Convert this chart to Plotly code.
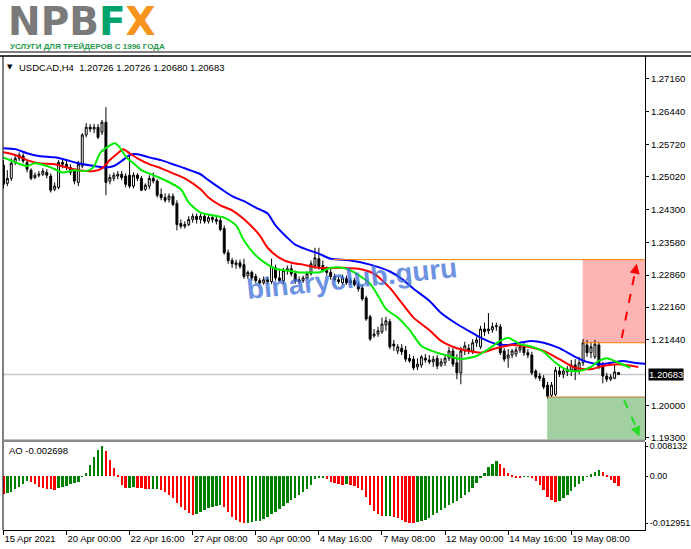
import plotly.graph_objects as go

# ---------------- data ----------------
tick_pos = [0, 16, 32, 48, 64, 80, 96, 112, 128, 144]
tick_labels = ["15 Apr 2021", "20 Apr 00:00", "22 Apr 16:00", "27 Apr 08:00", "30 Apr 00:00",
               "4 May 16:00", "7 May 08:00", "12 May 00:00", "14 May 16:00", "19 May 08:00"]

opens = [1.2527,1.2487,1.2498,1.2533,1.2542,1.2547,1.2533,1.2516,1.2500,1.2505,
         1.2507,1.2511,1.2503,1.2474,1.2478,1.2533,1.2529,1.2522,1.2514,1.2489,
         1.2525,1.2593,1.2610,1.2606,1.2610,1.2599,1.2621,1.2492,1.2498,1.2503,
         1.2507,1.2503,1.2505,1.2481,1.2505,1.2498,1.2474,1.2481,1.2498,1.2492,
         1.2463,1.2456,1.2452,1.2459,1.2443,1.2399,1.2393,1.2397,1.2408,1.2415,
         1.2408,1.2415,1.2404,1.2412,1.2408,1.2406,1.2388,1.2335,1.2318,1.2309,
         1.2313,1.2309,1.2285,1.2292,1.2283,1.2274,1.2269,1.2276,1.2272,1.2302,
         1.2280,1.2274,1.2296,1.2300,1.2289,1.2276,1.2274,1.2280,1.2289,1.2307,
         1.2322,1.2307,1.2296,1.2292,1.2283,1.2276,1.2269,1.2278,1.2269,1.2274,
         1.2265,1.2258,1.2236,1.2195,1.2153,1.2157,1.2162,1.2177,1.2184,1.2135,
         1.2120,1.2126,1.2122,1.2104,1.2102,1.2085,1.2089,1.2104,1.2100,1.2096,
         1.2104,1.2089,1.2094,1.2104,1.2120,1.2094,1.2072,1.2120,1.2126,1.2120,
         1.2138,1.2129,1.2168,1.2164,1.2166,1.2173,1.2173,1.2120,1.2104,1.2111,
         1.2113,1.2122,1.2129,1.2116,1.2111,1.2076,1.2065,1.2060,1.2045,1.2023,
         1.2025,1.2076,1.2069,1.2074,1.2078,1.2089,1.2076,1.2094,1.2133,1.2116,
         1.2107,1.2133,1.2087,1.2065,1.2058,1.2060,1.20726]
highs = [1.2538,1.2516,1.2542,1.2551,1.2555,1.2553,1.2538,1.2520,1.2511,1.2514,
         1.2520,1.2518,1.2509,1.2489,1.2538,1.2542,1.2536,1.2529,1.2518,1.2536,
         1.2597,1.2619,1.2617,1.2617,1.2617,1.2626,1.2654,1.2507,1.2511,1.2514,
         1.2514,1.2509,1.2553,1.2511,1.2509,1.2503,1.2487,1.2505,1.2511,1.2496,
         1.2476,1.2465,1.2465,1.2465,1.2450,1.2408,1.2404,1.2415,1.2421,1.2421,
         1.2421,1.2419,1.2419,1.2417,1.2415,1.2412,1.2395,1.2342,1.2324,1.2320,
         1.2320,1.2322,1.2296,1.2296,1.2289,1.2280,1.2283,1.2283,1.2322,1.2309,
         1.2300,1.2302,1.2307,1.2309,1.2296,1.2283,1.2285,1.2294,1.2318,1.2346,
         1.2346,1.2318,1.2305,1.2300,1.2289,1.2283,1.2287,1.2285,1.2280,1.2280,
         1.2272,1.2265,1.2241,1.2199,1.2168,1.2173,1.2193,1.2195,1.2190,1.2144,
         1.2135,1.2135,1.2131,1.2113,1.2109,1.2104,1.2111,1.2113,1.2111,1.2109,
         1.2111,1.2104,1.2113,1.2129,1.2126,1.2113,1.2129,1.2140,1.2135,1.2146,
         1.2151,1.2175,1.2182,1.2203,1.2182,1.2182,1.2179,1.2126,1.2124,1.2124,
         1.2129,1.2135,1.2138,1.2124,1.2118,1.2080,1.2072,1.2067,1.2052,1.2052,
         1.2085,1.2085,1.2083,1.2087,1.2100,1.2102,1.2107,1.2146,1.2144,1.2140,
         1.2144,1.2140,1.2096,1.2072,1.2069,1.2091,1.20726]
lows = [1.2476,1.2481,1.2492,1.2527,1.2536,1.2531,1.2511,1.2494,1.2496,1.2500,
        1.2503,1.2498,1.2467,1.2470,1.2474,1.2520,1.2516,1.2505,1.2485,1.2481,
        1.2520,1.2588,1.2599,1.2597,1.2584,1.2593,1.2461,1.2485,1.2492,1.2496,
        1.2494,1.2478,1.2476,1.2476,1.2492,1.2470,1.2470,1.2474,1.2487,1.2456,
        1.2450,1.2445,1.2445,1.2437,1.2384,1.2388,1.2388,1.2393,1.2401,1.2399,
        1.2399,1.2399,1.2399,1.2401,1.2397,1.2382,1.2331,1.2311,1.2302,1.2300,
        1.2300,1.2278,1.2278,1.2274,1.2269,1.2265,1.2265,1.2267,1.2267,1.2274,
        1.2272,1.2267,1.2287,1.2283,1.2267,1.2267,1.2269,1.2276,1.2285,1.2300,
        1.2298,1.2292,1.2285,1.2276,1.2272,1.2267,1.2265,1.2265,1.2265,1.2261,
        1.2250,1.2230,1.2186,1.2142,1.2149,1.2151,1.2157,1.2164,1.2124,1.2120,
        1.2113,1.2111,1.2096,1.2094,1.2078,1.2078,1.2083,1.2094,1.2091,1.2085,
        1.2080,1.2085,1.2087,1.2098,1.2085,1.2058,1.2047,1.2111,1.2113,1.2113,
        1.2129,1.2124,1.2153,1.2157,1.2160,1.2164,1.2111,1.2096,1.2083,1.2104,
        1.2107,1.2116,1.2109,1.2104,1.2067,1.2058,1.2054,1.2036,1.2016,1.2019,
        1.2021,1.2063,1.2060,1.2065,1.2065,1.2056,1.2069,1.2087,1.2107,1.2104,
        1.2102,1.2080,1.2049,1.2052,1.2054,1.2058,1.20680]
closes = [1.2485,1.2498,1.2531,1.2542,1.2549,1.2536,1.2518,1.2498,1.2505,1.2507,
          1.2514,1.2505,1.2472,1.2481,1.2533,1.2529,1.2522,1.2511,1.2492,1.2529,
          1.2593,1.2610,1.2606,1.2610,1.2588,1.2621,1.2489,1.2500,1.2505,1.2507,
          1.2500,1.2485,1.2481,1.2505,1.2498,1.2472,1.2483,1.2498,1.2492,1.2461,
          1.2456,1.2450,1.2459,1.2441,1.2397,1.2393,1.2397,1.2408,1.2415,1.2408,
          1.2415,1.2404,1.2412,1.2408,1.2404,1.2386,1.2335,1.2318,1.2311,1.2313,
          1.2305,1.2283,1.2292,1.2280,1.2274,1.2269,1.2276,1.2272,1.2305,1.2280,
          1.2274,1.2296,1.2300,1.2289,1.2274,1.2272,1.2280,1.2289,1.2311,1.2324,
          1.2305,1.2296,1.2292,1.2283,1.2276,1.2272,1.2280,1.2269,1.2274,1.2265,
          1.2256,1.2234,1.2190,1.2146,1.2157,1.2164,1.2179,1.2186,1.2129,1.2131,
          1.2129,1.2118,1.2102,1.2098,1.2083,1.2091,1.2107,1.2100,1.2096,1.2102,
          1.2087,1.2096,1.2104,1.2120,1.2091,1.2072,1.2120,1.2131,1.2120,1.2138,
          1.2144,1.2168,1.2162,1.2168,1.2173,1.2175,1.2116,1.2102,1.2111,1.2120,
          1.2122,1.2129,1.2116,1.2111,1.2072,1.2063,1.2060,1.2041,1.2021,1.2045,
          1.2078,1.2069,1.2076,1.2080,1.2089,1.2076,1.2094,1.2138,1.2116,1.2129,
          1.2135,1.2085,1.2065,1.2058,1.2063,1.2074,1.20683]
bars = list(range(len(closes)))

# Alligator lines
jaw_x = [0,3,6,9,13,16,19,23,26,28,30,32,34,37,40,43,46,50,52,55,58,61,64,67,69,72,74,77,80,83,
         88,93,98,101,104,108,111,115,118,121,125,128,131,134,137,141,145,148,151,154,157,160,164]
jaw_y = [1.2564,1.2562,1.2553,1.2547,1.2544,1.2538,1.2531,1.2525,1.2522,1.2525,1.2536,1.2549,1.2551,
         1.2544,1.2538,1.2529,1.2520,1.2507,1.2494,1.2476,1.2459,1.2448,1.2434,1.2421,1.2395,1.2368,
         1.2353,1.2342,1.2333,1.2322,1.2318,1.2309,1.2294,1.2278,1.2256,1.2230,1.2203,1.2179,1.2164,
         1.2149,1.2135,1.2133,1.2138,1.2142,1.2138,1.2126,1.2107,1.2096,1.2091,1.2094,1.2098,1.2094,1.2091]
teeth_x = [0,3,6,9,13,16,19,23,25,27,29,30.4,32,34,37,40,43,46,50,52,55,58,62,65,67,70,73,76,80,86,
           90,94,98,101,104,108,111,115,118,121,125,129,133,137,141,145,149,152,156,161]
teeth_y = [1.2555,1.2549,1.2538,1.2531,1.2529,1.2522,1.2516,1.2514,1.2520,1.2538,1.2553,1.2562,1.2553,
           1.2542,1.2529,1.2520,1.2509,1.2498,1.2474,1.2456,1.2439,1.2428,1.2401,1.2373,1.2346,1.2324,
           1.2313,1.2309,1.2302,1.2302,1.2300,1.2289,1.2258,1.2225,1.2193,1.2166,1.2142,1.2126,1.2120,
           1.2116,1.2126,1.2133,1.2129,1.2120,1.2102,1.2083,1.2080,1.2087,1.2091,1.2085]
lips_x = [0,3,6,8,12,15,18,21,22.8,24.5,26.2,28.3,29.5,31.2,33,35,38,41,45,47,50,53,56,59,61,64,67,69,
          72,75,78,80,83,86,89,93,95,97,100,103,106,110,113,116,120,123,126,128,131,134,137,140,143,146,
          149,151,153,156,159]
lips_y = [1.2544,1.2533,1.2525,1.2531,1.2522,1.2511,1.2516,1.2514,1.2522,1.2553,1.2566,1.2575,1.2566,
          1.2544,1.2531,1.2516,1.2505,1.2494,1.2474,1.2445,1.2423,1.2417,1.2412,1.2395,1.2362,1.2329,
          1.2309,1.2300,1.2296,1.2292,1.2292,1.2292,1.2302,1.2302,1.2292,1.2267,1.2241,1.2212,1.2193,
          1.2166,1.2131,1.2116,1.2109,1.2102,1.2109,1.2124,1.2142,1.2149,1.2135,1.2129,1.2118,1.2094,
          1.2078,1.2076,1.2085,1.2098,1.2104,1.2094,1.2083]

# Awesome Oscillator
ao = [-0.00493,-0.00475,-0.00429,-0.00365,-0.00292,-0.00228,-0.00137,-0.00155,-0.00219,-0.00292,
      -0.00338,-0.00347,-0.00356,-0.00383,-0.00338,-0.00301,-0.00274,-0.00228,-0.00201,-0.00155,
      -0.00018,0.00091,0.00301,0.00530,0.00712,0.00813,0.00685,0.00438,0.00210,0.00018,
      -0.00247,-0.00338,-0.00320,-0.00310,-0.00320,-0.00338,-0.00342,-0.00365,-0.00356,-0.00350,
      -0.00375,-0.00429,-0.00520,-0.00612,-0.00749,-0.00840,-0.00931,-0.01023,-0.01068,-0.01050,
      -0.00995,-0.00931,-0.00886,-0.00840,-0.00813,-0.00794,-0.00840,-0.00977,-0.01114,-0.01205,
      -0.01265,-0.01280,-0.01275,-0.01262,-0.01240,-0.01233,-0.01178,-0.01114,-0.01041,-0.00977,
      -0.00904,-0.00822,-0.00749,-0.00657,-0.00593,-0.00520,-0.00447,-0.00356,-0.00247,-0.00091,
      -0.00064,-0.00055,-0.00091,-0.00155,-0.00201,-0.00228,-0.00247,-0.00228,-0.00247,-0.00274,
      -0.00320,-0.00383,-0.00566,-0.00794,-0.00959,-0.01050,-0.01105,-0.01096,-0.01087,-0.01123,
      -0.01160,-0.01210,-0.01260,-0.01285,-0.01295,-0.01270,-0.01245,-0.01214,-0.01150,-0.01077,
      -0.01004,-0.00940,-0.00867,-0.00794,-0.00740,-0.00685,-0.00612,-0.00520,-0.00429,-0.00320,
      -0.00183,-0.00064,0.00091,0.00237,0.00329,0.00411,0.00320,0.00210,0.00091,0.00009,
      -0.00046,-0.00055,-0.00027,-0.00018,-0.00064,-0.00137,-0.00247,-0.00383,-0.00566,-0.00667,
      -0.00703,-0.00685,-0.00612,-0.00520,-0.00411,-0.00310,-0.00228,-0.00137,-0.00027,0.00046,
      0.00119,0.00164,0.00100,0.00009,-0.00105,-0.00190,-0.002698]
ao_colors = ["#ff0000"] + ["#008000" if ao[k] > ao[k - 1] else "#ff0000" for k in range(1, len(ao))]

price_ticks = [1.27160, 1.26440, 1.25720, 1.25020, 1.24300, 1.23580, 1.22860, 1.22160, 1.21440, 1.20000, 1.19300]
ao_ticks = [0.008132, 0.0, -0.012951]
ao_tick_text = ["0.008132", "0.00", "-0.012951"]
last_price = 1.20683
resist_level = 1.2320
box_low = 1.2138
support_level = 1.2019

# ---------------- layout helpers ----------------
W, H = 691, 549
L, R, T, B = 3, 645, 56, 530
def pxx(px):
    return (px - L) / (R - L)
def pxy(py):
    return (B - py) / (B - T)

FONT = "Liberation Sans, Arial, sans-serif"
fig = go.Figure()

fig.add_trace(go.Candlestick(
    x=bars, open=opens, high=highs, low=lows, close=closes,
    increasing=dict(line=dict(color="black", width=1), fillcolor="white"),
    decreasing=dict(line=dict(color="black", width=1), fillcolor="black"),
    whiskerwidth=0, xaxis="x", yaxis="y", showlegend=False, hoverinfo="skip"))

for xs, ys, col in [(jaw_x, jaw_y, "#0000ff"), (teeth_x, teeth_y, "#ff0000"), (lips_x, lips_y, "#00ee00")]:
    fig.add_trace(go.Scatter(x=xs, y=ys, mode="lines", xaxis="x", yaxis="y", showlegend=False,
                             hoverinfo="skip",
                             line=dict(color=col, width=2, shape="spline", smoothing=0.7)))

fig.add_trace(go.Bar(x=bars, y=ao, marker=dict(color=ao_colors, line=dict(width=0)), width=0.6,
                     xaxis="x", yaxis="y2", showlegend=False, hoverinfo="skip"))

main_bottom = pxy(439.5)
ao_top = pxy(442)

shapes = []
shapes.append(dict(type="rect", xref="x", yref="y", x0=146.9, x1=170, y0=box_low, y1=resist_level,
                   fillcolor="#ffb4b4", line=dict(width=0), layer="below"))
shapes.append(dict(type="rect", xref="x", yref="y", x0=137.9, x1=170, y0=1.18, y1=support_level,
                   fillcolor="#a3d0a3", line=dict(width=0), layer="below"))
shapes.append(dict(type="line", xref="paper", yref="y", x0=0, x1=1, y0=last_price, y1=last_price,
                   line=dict(color="#c8c8c8", width=1.5), layer="below"))
shapes.append(dict(type="line", xref="x", yref="y", x0=83.6, x1=170, y0=resist_level, y1=resist_level,
                   line=dict(color="#ff7f00", width=1)))
shapes.append(dict(type="line", xref="x", yref="y", x0=146.9, x1=170, y0=box_low, y1=box_low,
                   line=dict(color="#ff7f00", width=1)))
shapes.append(dict(type="line", xref="x", yref="y", x0=137.9, x1=170, y0=support_level, y1=support_level,
                   line=dict(color="#c07838", width=1)))
shapes.append(dict(type="line", xref="x", yref="y", x0=156.8, x1=160.3, y0=1.2148, y1=1.2298,
                   line=dict(color="#ff0000", width=2, dash="dash")))
shapes.append(dict(type="line", xref="x", yref="y", x0=157.4, x1=161.0, y0=1.2012, y1=1.1942,
                   line=dict(color="#22dd22", width=2, dash="dash")))
shapes.append(dict(type="line", xref="paper", yref="paper", x0=0, x1=0, y0=0, y1=1,
                   line=dict(color="black", width=1)))
shapes.append(dict(type="line", xref="paper", yref="paper", x0=pxx(0), x1=pxx(691), y0=1, y1=1,
                   line=dict(color="black", width=1.5)))
shapes.append(dict(type="line", xref="paper", yref="paper", x0=pxx(0), x1=pxx(691), y0=pxy(52), y1=pxy(52),
                   line=dict(color="black", width=1)))
shapes.append(dict(type="rect", xref="paper", yref="paper", x0=0, x1=1, y0=ao_top, y1=main_bottom,
                   fillcolor="#8a8a8a", line=dict(width=0)))

annotations = []
annotations.append(dict(xref="paper", yref="paper", x=pxx(6), y=pxy(22), xanchor="left", yanchor="middle",
                        showarrow=False,
                        text="<b>NPB<span style='color:#00a36c'>F</span><span style='color:#f7941d'>X</span></b>",
                        font=dict(family="DejaVu Sans, Liberation Sans, sans-serif", size=39, color="#7a7a7a")))
annotations.append(dict(xref="paper", yref="paper", x=pxx(8), y=pxy(47), xanchor="left", yanchor="middle",
                        showarrow=False, text="<b>УСЛУГИ ДЛЯ ТРЕЙДЕРОВ С 1996 ГОДА</b>",
                        font=dict(family="Liberation Sans, sans-serif", size=8, color="#1f9a4c")))
annotations.append(dict(xref="paper", yref="paper", x=pxx(5), y=pxy(67), xanchor="left", yanchor="middle",
                        showarrow=False, text="▼", font=dict(family="DejaVu Sans", size=7, color="black")))
annotations.append(dict(xref="paper", yref="paper", x=pxx(17), y=pxy(67), xanchor="left", yanchor="middle",
                        showarrow=False,
                        text="USDCAD,H4\u00a0\u00a01.20726 1.20726 1.20680 1.20683",
                        font=dict(family=FONT, size=9.5, color="black")))
annotations.append(dict(xref="paper", yref="paper", x=pxx(7), y=pxy(450), xanchor="left", yanchor="middle",
                        showarrow=False, text="AO -0.002698", font=dict(family=FONT, size=9.5, color="black")))
annotations.append(dict(xref="paper", yref="y", x=1, y=last_price, xanchor="left", yanchor="middle",
                        xshift=3, showarrow=False, text="1.20683", bgcolor="black", borderpad=0,
                        font=dict(family=FONT, size=9.5, color="white")))
annotations.append(dict(xref="paper", yref="paper", x=pxx(352), y=pxy(278), xanchor="center", yanchor="middle",
                        showarrow=False, text="<b>binaryclub.guru</b>", textangle=-6,
                        font=dict(family=FONT, size=28, color="rgba(60,110,215,0.75)")))
annotations.append(dict(xref="x", yref="y", x=160.6, y=1.2311, ax=-2, ay=10, axref="pixel", ayref="pixel",
                        showarrow=True, arrowhead=2, arrowsize=1, arrowwidth=2, arrowcolor="#ff0000", text=""))
annotations.append(dict(xref="x", yref="y", x=161.3, y=1.1933, ax=-4, ay=-9, axref="pixel", ayref="pixel",
                        showarrow=True, arrowhead=2, arrowsize=1, arrowwidth=2, arrowcolor="#22dd22", text=""))

fig.update_layout(
    width=W, height=H, margin=dict(l=L, r=W - R, t=T, b=H - B, pad=0, autoexpand=False),
    paper_bgcolor="white", plot_bgcolor="white", showlegend=False, bargap=0,
    font=dict(family=FONT, size=9.5, color="black"),
    xaxis=dict(domain=[0, 1], range=[-0.1, 162.7], anchor="y2", tickmode="array",
               tickvals=tick_pos, ticktext=tick_labels, ticks="outside", ticklen=4, tickcolor="black",
               showline=True, linecolor="black", linewidth=1, showgrid=False, zeroline=False,
               rangeslider=dict(visible=False), ticklabelposition="outside right", tickangle=0,
               automargin=False, tickfont=dict(family=FONT, size=9.5, color="black")),
    yaxis=dict(domain=[main_bottom, 1], range=[1.1926, 1.2766], side="right", anchor="x",
               tickmode="array", tickvals=price_ticks, ticktext=[f"{v:.5f}" for v in price_ticks],
               ticks="outside", ticklen=3, tickcolor="black", showline=True, linecolor="black",
               automargin=False, showgrid=False, zeroline=False,
               tickfont=dict(family=FONT, size=9.5, color="black")),
    yaxis2=dict(domain=[0, ao_top], range=[-0.01479, 0.00932], side="right", anchor="x",
                tickmode="array", tickvals=ao_ticks, ticktext=ao_tick_text,
                ticks="outside", ticklen=2, tickcolor="black", showline=True, linecolor="black",
                automargin=False, showgrid=False, zeroline=False,
                tickfont=dict(family=FONT, size=9, color="black")),
    shapes=shapes, annotations=annotations,
)

fig.write_html("out.html", config={"displayModeBar": False},
               post_script="document.body.style.margin='0px';document.body.style.overflow='hidden';")
